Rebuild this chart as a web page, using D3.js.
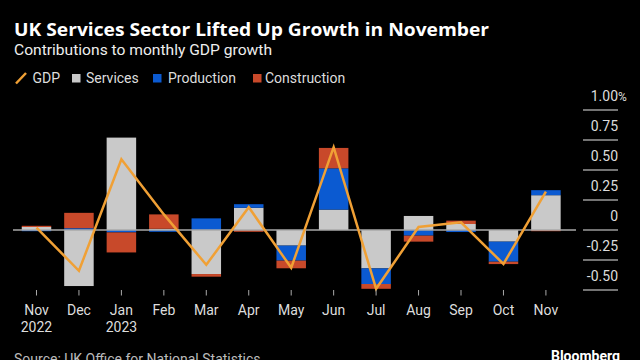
<!DOCTYPE html>
<html>
<head>
<meta charset="utf-8">
<script src="https://cdn.jsdelivr.net/npm/d3@7"></script>
<style>
  html, body { margin: 0; padding: 0; background: #000; }
  svg { display: block; }
  text { font-family: Roboto, "Noto Sans", sans-serif; }
</style>
</head>
<body>
<svg id="chart" width="640" height="360"></svg>
<script>
// ---- data ----
const months = ["Nov", "Dec", "Jan", "Feb", "Mar", "Apr", "May", "Jun", "Jul", "Aug", "Sep", "Oct", "Nov"];
const years  = ["2022", "", "2023", "", "", "", "", "", "", "", "", "", ""];
const services     = [0.025, -0.467, 0.77, 0.01, -0.367, 0.185, -0.13, 0.17, -0.32, 0.117, 0.05, -0.097, 0.29];
const production   = [-0.01, 0.015, -0.02, -0.015, 0.097, 0.03, -0.125, 0.344, -0.13, -0.047, -0.017, -0.167, 0.042];
const construction = [0.01, 0.128, -0.167, 0.12, -0.022, -0.015, -0.064, 0.17, -0.04, -0.05, 0.028, -0.02, -0.01];
const gdp          = [0.02, -0.34, 0.59, 0.13, -0.29, 0.19, -0.315, 0.69, -0.49, 0.025, 0.064, -0.283, 0.32];
const yTicks = [-0.5, -0.25, 0, 0.25, 0.5, 0.75, 1.0];
const yTickLabels = ["-0.50", "-0.25", "0", "0.25", "0.50", "0.75", "1.00"];
const seriesNames = ["Services", "Production", "Construction"];

const colors = { Services: "#c9c9c9", Production: "#0b5ad1", Construction: "#c8492a", GDP: "#f0a035" };

const svg = d3.select("#chart");

const idx = d3.range(months.length);
const rows = idx.map(i => ({ i, Services: services[i], Production: production[i], Construction: construction[i] }));

const x = d3.scaleBand().domain(idx).range([9, 573.4]).paddingInner(0.305).paddingOuter(0.3);
const y = d3.scaleLinear().domain([-0.5, 1.0]).range([290, 110]);

// ---- titles ----
svg.append("text").attr("x", 14).attr("y", 36)
  .attr("fill", "#fff").attr("font-size", 17.5).attr("font-weight", 700)
  .style("font-family", "'Open Sans', Roboto, sans-serif")
  .attr("textLength", 475).attr("lengthAdjust", "spacingAndGlyphs")
  .text("UK Services Sector Lifted Up Growth in November");
svg.append("text").attr("x", 14).attr("y", 55)
  .attr("fill", "#eee").attr("font-size", 14.5)
  .attr("textLength", 258).attr("lengthAdjust", "spacingAndGlyphs")
  .text("Contributions to monthly GDP growth");

// ---- legend ----
const lg = svg.append("g");
lg.append("line").attr("x1", 16).attr("y1", 83.5).attr("x2", 26).attr("y2", 73)
  .attr("stroke", colors.GDP).attr("stroke-width", 2.5);
lg.append("text").attr("x", 32.5).attr("y", 83).attr("fill", "#ddd").attr("font-size", 14).text("GDP");
const legItems = [
  { name: "Services", sx: 72, tx: 86 },
  { name: "Production", sx: 153, tx: 168 },
  { name: "Construction", sx: 253, tx: 265 }
];
legItems.forEach(d => {
  lg.append("rect").attr("x", d.sx).attr("y", 74).attr("width", 8.5).attr("height", 8.5).attr("fill", colors[d.name]);
  lg.append("text").attr("x", d.tx).attr("y", 83).attr("fill", "#ddd").attr("font-size", 14).text(d.name);
});

// ---- y axis (right) ----
const ya = svg.append("g");
yTicks.forEach((t, k) => {
  ya.append("line").attr("x1", 583).attr("x2", 618).attr("y1", y(t)).attr("y2", y(t))
    .attr("stroke", "#9a9a9a").attr("stroke-width", 1.5);
  ya.append("text").attr("x", 618).attr("y", y(t) - 9.5)
    .attr("fill", "#ddd").attr("font-size", 14).attr("text-anchor", "end").text(yTickLabels[k]);
  if (t === 1.0) {
    ya.append("text").attr("x", 618).attr("y", y(t) - 9.5)
      .attr("fill", "#ddd").attr("font-size", 12).text("%");
  }
});

// ---- bars ----
const stack = d3.stack().keys(seriesNames).offset(d3.stackOffsetDiverging);
const stacked = stack(rows);
svg.append("g").selectAll("g").data(stacked).join("g")
  .attr("fill", s => colors[s.key])
  .selectAll("rect").data(s => s).join("rect")
  .attr("x", d => x(d.data.i))
  .attr("width", x.bandwidth())
  .attr("y", d => y(Math.max(d[0], d[1])))
  .attr("height", d => Math.abs(y(d[0]) - y(d[1])));

// ---- zero line ----
svg.append("line").attr("x1", 13).attr("x2", 576).attr("y1", y(0)).attr("y2", y(0))
  .attr("stroke", "#a8a8a8").attr("stroke-width", 1.5);

// ---- GDP line ----
const line = d3.line().x((d, i) => x(i) + x.bandwidth() / 2).y(d => y(d));
svg.append("path").datum(gdp).attr("d", line)
  .attr("fill", "none").attr("stroke", colors.GDP).attr("stroke-width", 2.5)
  .attr("stroke-linejoin", "miter");

// ---- x axis ----
const xa = svg.append("g");
idx.forEach(i => {
  const cx = x(i) + x.bandwidth() / 2;
  xa.append("line").attr("x1", cx).attr("x2", cx).attr("y1", 290).attr("y2", 295.5)
    .attr("stroke", "#aaa").attr("stroke-width", 1);
  xa.append("text").attr("x", cx).attr("y", 314.5).attr("text-anchor", "middle")
    .attr("fill", "#ddd").attr("font-size", 14).text(months[i]);
  if (years[i]) {
    xa.append("text").attr("x", cx).attr("y", 332).attr("text-anchor", "middle")
      .attr("fill", "#ddd").attr("font-size", 14).text(years[i]);
  }
});

// ---- footer ----
svg.append("text").attr("x", 14).attr("y", 364).attr("fill", "#bbb").attr("font-size", 14)
  .text("Source: UK Office for National Statistics");
svg.append("text").attr("x", 620).attr("y", 361).attr("text-anchor", "end")
  .attr("fill", "#fff").attr("font-size", 14).attr("font-weight", 700).text("Bloomberg");
</script>
</body>
</html>
